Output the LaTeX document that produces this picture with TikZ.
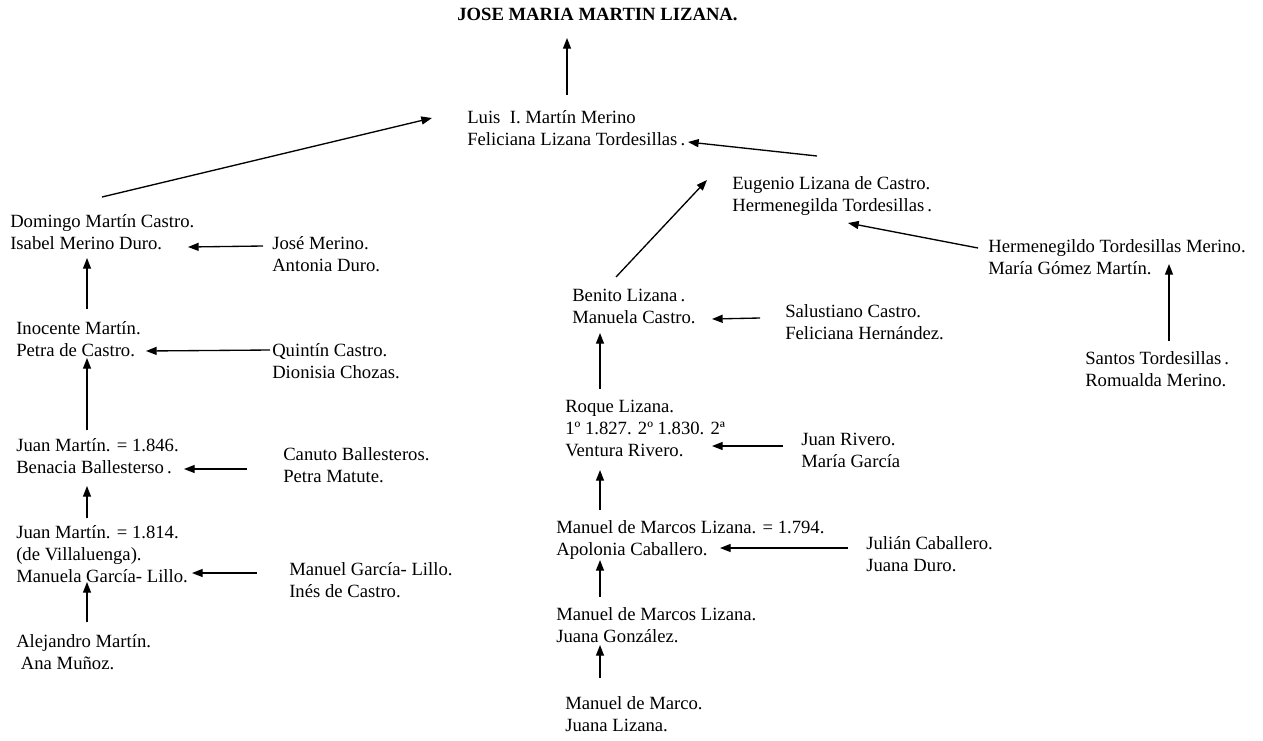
\documentclass[tikz,border=0pt]{standalone}
\usepackage{fontspec}
\setmainfont{Liberation Serif}
\usetikzlibrary{arrows.meta}
\tikzset{
  person/.style={anchor=north west, inner sep=0pt, align=left, font=\fontsize{14}{16.5}\selectfont},
  ttl/.style={anchor=north west, inner sep=0pt, font=\fontsize{14}{16.5}\selectfont\bfseries},
  arr/.style={line width=1pt, -{Triangle[length=8pt,width=6pt]}}
}
\begin{document}
\begin{tikzpicture}[x=0.75pt,y=-0.75pt]
\useasboundingbox (0,0) rectangle (1263,740);
% nodes
\node[ttl] (title) at (457,5) {\strut JOSE MARIA MARTIN LIZANA.};
\node[person] (luis) at (467,108) {\strut Luis\ \ I. Martín Merino\\Feliciana Lizana Tordesillas\,.};
\node[person] (eug) at (732,174) {\strut Eugenio Lizana de Castro.\\Hermenegilda Tordesillas\,.};
\node[person] (herm) at (988,237) {\strut Hermenegildo Tordesillas Merino.\\María Gómez Martín.};
\node[person] (santos) at (1085,349) {\strut Santos Tordesillas\,.\\Romualda Merino.};
\node[person] (dom) at (10,212) {\strut Domingo Martín Castro.\\Isabel Merino Duro.};
\node[person] (jose) at (272,234) {\strut José Merino.\\Antonia Duro.};
\node[person] (inoc) at (16,319) {\strut Inocente Martín.\\Petra de Castro.};
\node[person] (quin) at (272,341) {\strut Quintín Castro.\\Dionisia Chozas.};
\node[person] (juan1) at (16,436) {\strut Juan Martín. = 1.846.\\Benacia Ballesterso\,.};
\node[person] (canuto) at (283,445) {\strut Canuto Ballesteros.\\Petra Matute.};
\node[person] (juan2) at (16,523) {\strut Juan Martín. = 1.814.\\(de Villaluenga).\\Manuela García- Lillo.};
\node[person] (manuelg) at (289,560) {\strut Manuel García- Lillo.\\Inés de Castro.};
\node[person] (alej) at (16,632) {\strut Alejandro Martín.\\\ Ana Muñoz.};
\node[person] (benito) at (572,286) {\strut Benito Lizana\,.\\Manuela Castro.};
\node[person] (salus) at (785,302) {\strut Salustiano Castro.\\Feliciana Hernández.};
\node[person] (roque) at (565,397) {\strut Roque Lizana.\\1º 1.827. 2º 1.830. 2ª\\Ventura Rivero.};
\node[person] (jrivero) at (801,430) {\strut Juan Rivero.\\María García};
\node[person] (mmA) at (556,518) {\strut Manuel de Marcos Lizana. = 1.794.\\Apolonia Caballero.};
\node[person] (julian) at (866,534) {\strut Julián Caballero.\\Juana Duro.};
\node[person] (mmB) at (556,605) {\strut Manuel de Marcos Lizana.\\Juana González.};
\node[person] (mmarco) at (565,694) {\strut Manuel de Marco.\\Juana Lizana.};
% connectors
\draw[arr] ([shift={(100,-13)}]luis.north west) -- ([shift={(110,33)}]title.north west);
\draw[arr] ([shift={(92,-15)}]dom.north west) -- ([shift={(-35,10)}]luis.north west);
\draw[arr] ([shift={(85,-18)}]eug.north west) -- ([shift={(221,34)}]luis.north west);
\draw[arr] ([shift={(44,-9)}]benito.north west) -- ([shift={(-25,6)}]eug.north west);
\draw[arr] ([shift={(-10,11)}]herm.north west) -- ([shift={(116,49)}]eug.north west);
\draw[arr] ([shift={(84,-8)}]santos.north west) -- ([shift={(181,27)}]herm.north west);
\draw[arr] ([shift={(-9,12)}]jose.north west) -- ([shift={(178,35)}]dom.north west);
\draw[arr] ([shift={(71,-10)}]inoc.north west) -- ([shift={(77,46)}]dom.north west);
\draw[arr] ([shift={(-2,9)}]quin.north west) -- ([shift={(130,32)}]inoc.north west);
\draw[arr] ([shift={(71,-6)}]juan1.north west) -- ([shift={(71,39)}]inoc.north west);
\draw[arr] ([shift={(-36,24)}]canuto.north west) -- ([shift={(168,33)}]juan1.north west);
\draw[arr] ([shift={(71,-5)}]juan2.north west) -- ([shift={(71,50)}]juan1.north west);
\draw[arr] ([shift={(-32,13)}]manuelg.north west) -- ([shift={(176,50)}]juan2.north west);
\draw[arr] ([shift={(71,-10)}]alej.north west) -- ([shift={(71,59)}]juan2.north west);
\draw[arr] ([shift={(-25,16)}]salus.north west) -- ([shift={(140,33)}]benito.north west);
\draw[arr] ([shift={(35,-8)}]roque.north west) -- ([shift={(28,47)}]benito.north west);
\draw[arr] ([shift={(-18,16)}]jrivero.north west) -- ([shift={(147,49)}]roque.north west);
\draw[arr] ([shift={(44,-8)}]mmA.north west) -- ([shift={(35,73)}]roque.north west);
\draw[arr] ([shift={(-18,14)}]julian.north west) -- ([shift={(164,30)}]mmA.north west);
\draw[arr] ([shift={(44,-8)}]mmB.north west) -- ([shift={(44,42)}]mmA.north west);
\draw[arr] ([shift={(35,-16)}]mmarco.north west) -- ([shift={(44,40)}]mmB.north west);
\end{tikzpicture}
\end{document}
